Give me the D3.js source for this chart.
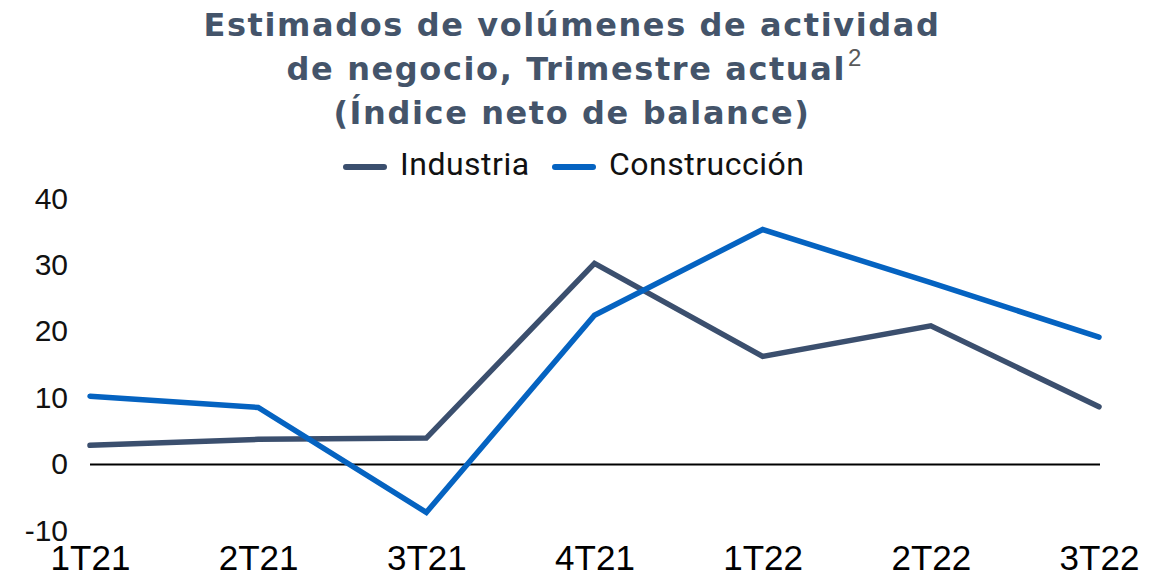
<!DOCTYPE html>
<html>
<head>
<meta charset="utf-8">
<script src="https://cdn.jsdelivr.net/npm/d3@7"></script>
<style>
  html, body { margin: 0; padding: 0; background: #fff; }
</style>
</head>
<body>
<div id="chart"></div>
<script>
// Data
var quarters = ["1T21", "2T21", "3T21", "4T21", "1T22", "2T22", "3T22"];
var industria = [2.9, 3.8, 4.0, 30.3, 16.3, 20.9, 8.7];
var construccion = [10.3, 8.6, -7.2, 22.5, 35.4, 27.4, 19.2];
var yTicks = [-10, 0, 10, 20, 30, 40];
var titleLines = ["Estimados de volúmenes de actividad", "de negocio, Trimestre actual", "(Índice neto de balance)"];

var series = [
    { name: "Industria", values: industria, color: "#3b4f6e" },
    { name: "Construcción", values: construccion, color: "#0563c1" }
];

var width = 1160, height = 575;

var svg = d3.select("#chart")
    .append("svg")
        .attr("width", width)
        .attr("height", height);

// Scales
var x = d3.scalePoint().domain(quarters).range([90, 1099]);
var y = d3.scaleLinear().domain([-10, 40]).range([531, 199]);

// Title
var title = svg.append("text")
    .attr("text-anchor", "middle")
    .attr("font-family", "'DejaVu Sans', sans-serif")
    .attr("font-weight", 700)
    .attr("font-size", "32px")
    .attr("letter-spacing", "1.6px")
    .attr("fill", "#44546a");

titleLines.forEach(function(line, i){
    title.append("tspan")
        .attr("x", i == 1 ? 574 : 572)
        .attr("y", 36 + i * 44)
        .text(line);
    if (i == 1) {
        title.append("tspan")
            .attr("dy", "-14")
            .attr("dx", "2")
            .attr("font-family", "'Liberation Sans', Arial, sans-serif")
            .attr("font-weight", 400)
            .attr("font-size", "24px")
            .attr("letter-spacing", "0px")
            .attr("fill", "#595959")
            .text("2");
    }
});

// Legend
var legendPos = [343, 552];
series.forEach(function(s, i){
    var g = svg.append("g")
        .attr("transform", "translate(" + legendPos[i] + ",167)");
    g.append("line")
        .attr("x1", 3).attr("x2", 41)
        .attr("y1", 0).attr("y2", 0)
        .attr("stroke", s.color)
        .attr("stroke-width", 6)
        .attr("stroke-linecap", "round");
    g.append("text")
        .attr("x", 57)
        .attr("y", 8)
        .attr("font-family", "Roboto, sans-serif")
        .attr("font-size", "32px")
        .attr("letter-spacing", "0.5px")
        .attr("fill", "#111")
        .text(s.name);
});

// Y axis labels (no axis line)
var yAxis = d3.axisLeft(y).tickValues(yTicks).tickSize(0).tickPadding(0)
    .tickFormat(function(d){ return String(d); });
var yAxisGroup = svg.append("g")
    .attr("transform", "translate(68,0)")
    .call(yAxis);
yAxisGroup.select(".domain").remove();
yAxisGroup.selectAll("text")
    .attr("font-family", "'Liberation Sans', Arial, sans-serif")
    .attr("font-size", "30px")
    .attr("fill", "#111")
    .attr("dy", "0.3em");

// zero line
svg.append("line")
    .attr("x1", x(quarters[0]))
    .attr("x2", x(quarters[quarters.length - 1]) + 1)
    .attr("y1", y(0))
    .attr("y2", y(0))
    .attr("stroke", "#000")
    .attr("stroke-width", 2);

// X axis labels
var xAxis = d3.axisBottom(x).tickSize(0).tickPadding(0);
var xAxisGroup = svg.append("g")
    .attr("transform", "translate(0,570)")
    .call(xAxis);
xAxisGroup.select(".domain").remove();
xAxisGroup.selectAll("text")
    .attr("font-family", "'Liberation Sans', Arial, sans-serif")
    .attr("font-size", "35px")
    .attr("fill", "#000")
    .attr("dy", "0");

// Lines
var line = d3.line()
    .x(function(d, i){ return x(quarters[i]); })
    .y(function(d){ return y(d); });

series.forEach(function(s){
    svg.append("path")
        .datum(s.values)
        .attr("d", line)
        .attr("fill", "none")
        .attr("stroke", s.color)
        .attr("stroke-width", 5.5)
        .attr("stroke-linecap", "round")
        .attr("stroke-linejoin", "miter");
});
</script>
</body>
</html>
